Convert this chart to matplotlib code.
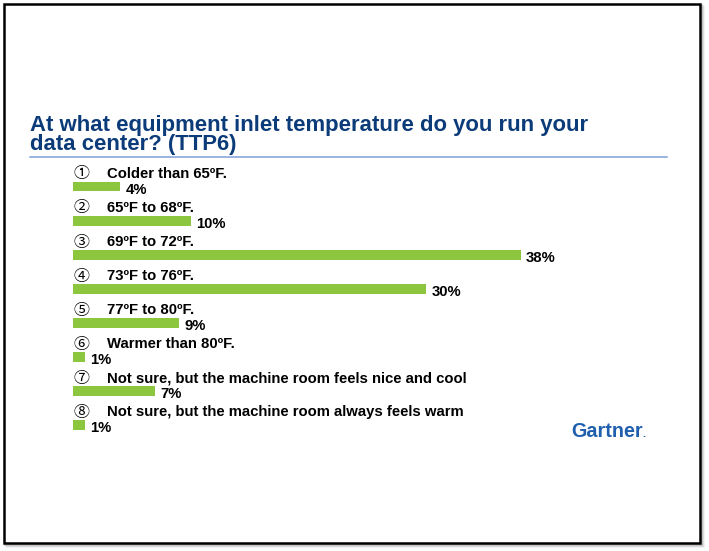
import matplotlib
matplotlib.use("Agg")
import matplotlib.pyplot as plt
from matplotlib.patches import Rectangle

# ---- data ----
markers = ["①", "②", "③", "④", "⑤", "⑥", "⑦", "⑧"]
categories = [
    "Colder than 65ºF.",
    "65ºF to 68ºF.",
    "69ºF to 72ºF.",
    "73ºF to 76ºF.",
    "77ºF to 80ºF.",
    "Warmer than 80ºF.",
    "Not sure, but the machine room feels nice and cool",
    "Not sure, but the machine room always feels warm",
]
values = [4, 10, 38, 30, 9, 1, 7, 1]
value_labels = ["4%", "10%", "38%", "30%", "9%", "1%", "7%", "1%"]
title_lines = ["At what equipment inlet temperature do you run your",
               "data center? (TTP6)"]

W, H = 709, 551
fig = plt.figure(figsize=(W / 100, H / 100), dpi=100)
fig.patch.set_facecolor("white")

# frame with shadow
bg = fig.add_axes([0, 0, 1, 1])
bg.set_xlim(0, W)
bg.set_ylim(H, 0)
bg.axis("off")
for i, a in enumerate([0.12, 0.2, 0.3]):
    off = 3 - i
    bg.add_patch(Rectangle((4 + off, 4 + off), 696, 539, facecolor="none",
                           edgecolor=(0.5, 0.5, 0.5, a), lw=2))
bg.add_patch(Rectangle((4, 4), 696, 539, facecolor="white", edgecolor="black", lw=1.8))

# title
for k, line in enumerate(title_lines):
    bg.text(30, 131 + 19 * k, line, fontsize=15.9, fontweight="bold", color="#0b3b78",
            family="Liberation Sans", va="baseline", ha="left")
bg.plot([30, 667], [157, 157], color="#7f9fd8", lw=1.1)

# Gartner logo
bg.text(643, 437, "Gartner", fontsize=14.2, fontweight="bold", color="#1f5fae",
        family="Liberation Sans", va="baseline", ha="right")
bg.text(642, 437, ".", fontsize=8, fontweight="bold", color="#1f5fae",
        family="Liberation Sans", va="baseline", ha="left")

# bar axes: 0% at x=73 px, 11.78 px per %
x0, ppu = 73, 11.78
xmax = 50
top, step = 186.5, 34.07
ax = fig.add_axes([x0 / W, 1 - (top + 7.5 * step) / H, xmax * ppu / W, 8 * step / H])
ax.set_xlim(0, xmax)
ax.set_ylim(7.5, -0.5)
ax.axis("off")

ypos = list(range(len(values)))
ax.barh(ypos, values, height=0.29, color="#8cc63f", edgecolor="none")

for i, (m, c, v, vl) in enumerate(zip(markers, categories, values, value_labels)):
    ax.text(0.0, i - 0.37, m, fontsize=11.5, family=["Noto Sans CJK JP", "DejaVu Sans"],
            va="center", ha="left", color="black")
    ax.text(2.9, i - 0.37, c, fontsize=10.7, fontweight="bold", family="Liberation Sans",
            va="center", ha="left", color="black")
    ax.text(v + 0.45, i + 0.1, vl, fontsize=10.7, fontweight="bold", family="Liberation Sans",
            va="center", ha="left", color="black")

fig.savefig("out.png", dpi=100, facecolor="white")
